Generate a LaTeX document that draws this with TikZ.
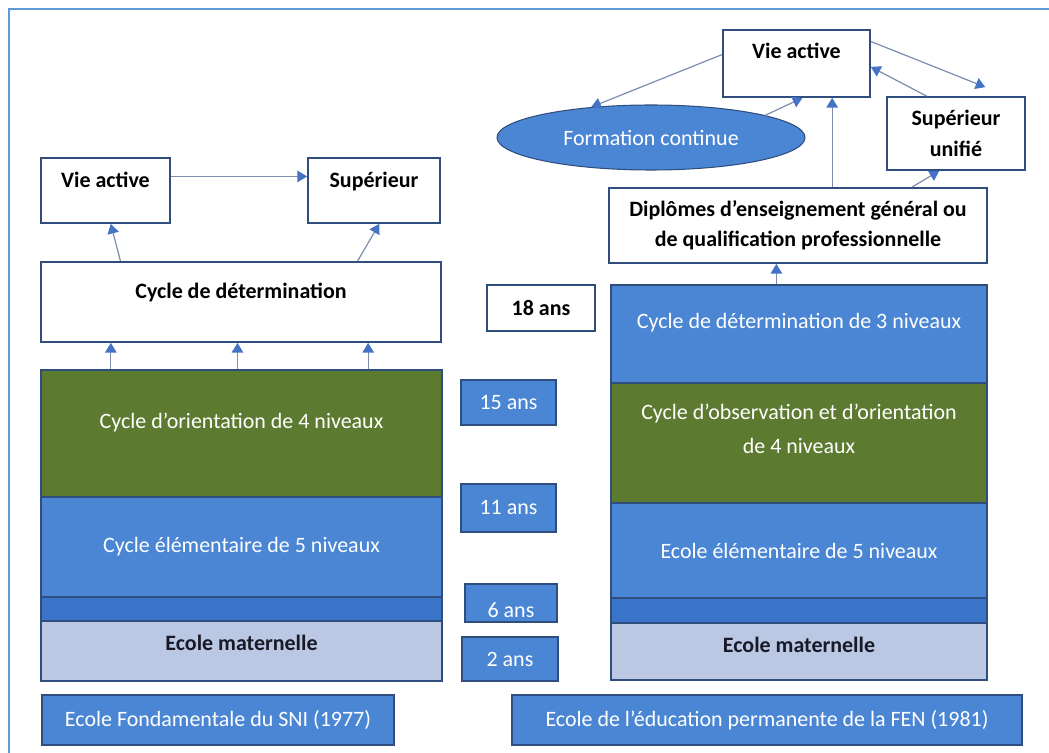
\documentclass[tikz,border=0pt]{standalone}
\usepackage{fontspec}
\setmainfont{Carlito}
\usetikzlibrary{positioning,calc,arrows.meta,shapes.geometric}
\definecolor{boxblue}{RGB}{74,134,212}
\definecolor{stripeblue}{RGB}{58,116,200}
\definecolor{olivegreen}{RGB}{92,122,48}
\definecolor{paleblue}{RGB}{186,200,228}
\definecolor{edgeblue}{RGB}{47,78,125}
\definecolor{linegrey}{RGB}{125,142,175}
\definecolor{tipblue}{RGB}{68,114,196}
\definecolor{framecol}{RGB}{91,155,213}
\definecolor{darktext}{RGB}{25,25,40}
\newcommand{\pu}{0.02cm}
\tikzset{white box/.style={draw=edgeblue,line width=1pt,fill=white,inner sep=0pt,align=center,font=\fontsize{12.5}{15}\selectfont\bfseries},
  blue box/.style={draw=edgeblue,line width=0.8pt,fill=boxblue,inner sep=0pt,align=center,text=white,font=\fontsize{12.5}{15}\selectfont},
  band/.style={draw=edgeblue,line width=0.6pt,fill=#1,inner sep=0pt,align=center,text=white,font=\fontsize{12.5}{15}\selectfont},
  mat band/.style={band=paleblue,text=darktext,font=\fontsize{12.5}{15}\selectfont\bfseries},
  arr/.style={draw=linegrey,line width=0.7pt,-{Triangle[width=6.5pt,length=5.5pt,color=tipblue]}} }

\begin{document}
\begin{tikzpicture}[x=0.02cm,y=-0.02cm]
\useasboundingbox (0,0) rectangle (1049,753);
\draw[framecol,line width=1.3pt] (9,753) -- (9,9) -- (1049,9);

  % left school
  \node[white box,minimum width=129*\pu,minimum height=65*\pu,text depth=12.6pt] (vieL) at (105.5,190.5) {Vie active};
  \node[white box,minimum width=132*\pu,minimum height=65*\pu,text depth=12.6pt] (supL) at (374,190.5) {Supérieur};
  \node[white box,minimum width=400*\pu,minimum height=80*\pu,text depth=13pt] (cdetL) at (241,302) {Cycle de détermination};
  \node[band=olivegreen,minimum width=401*\pu,minimum height=127*\pu,text depth=14.4pt] (orientL) at (241.5,433.5) {Cycle d’orientation de 4 niveaux};
  \node[band=boxblue,minimum width=401*\pu,minimum height=100*\pu] (elemL) at (241.5,547) {Cycle élémentaire de 5 niveaux};
  \node[band=stripeblue,minimum width=401*\pu,minimum height=24*\pu] (stripeL) at (241.5,609) {};
  \node[mat band,minimum width=401*\pu,minimum height=60*\pu,text depth=9.8pt] (matL) at (241.5,651) {Ecole maternelle};
  \node[blue box,minimum width=352*\pu,minimum height=50*\pu] (fondL) at (218,720) {Ecole Fondamentale du SNI (1977)};

  % ages
  \node[white box,minimum width=108*\pu,minimum height=46*\pu] (a18) at (541,308) {18 ans};
  \node[blue box,minimum width=95*\pu,minimum height=45*\pu] (a15) at (508.5,402.5) {15 ans};
  \node[blue box,minimum width=95*\pu,minimum height=48*\pu] (a11) at (508.5,508) {11 ans};
  \node[blue box,minimum width=92*\pu,minimum height=38*\pu,text height=17pt] (a6) at (511,603) {6 ans};
  \node[blue box,minimum width=96*\pu,minimum height=44*\pu] (a2) at (510,659) {2 ans};

  % right school
  \node[white box,minimum width=147*\pu,minimum height=67*\pu,text depth=15pt] (vieR) at (796.5,63.5) {Vie active};
  \node[ellipse,draw=edgeblue,line width=0.6pt,fill=boxblue,inner sep=0pt,minimum width=308*\pu,minimum height=65*\pu,text=white,font=\fontsize{12.5}{15}\selectfont] (formC) at (651,137.5) {Formation continue};
  \node[white box,minimum width=138*\pu,minimum height=73*\pu] (supU) at (956,133.5) {Supérieur\\[3pt]unifié};
  \node[white box,minimum width=378*\pu,minimum height=75*\pu] (dipl) at (798,225.5) {Diplômes d’enseignement général ou\\[2pt]de qualification professionnelle};
  \node[band=boxblue,minimum width=376*\pu,minimum height=98*\pu,text depth=15.4pt] (cdetR) at (799,334) {Cycle de détermination de 3 niveaux};
  \node[band=olivegreen,minimum width=376*\pu,minimum height=120*\pu,text depth=16pt] (obsR) at (799,443) {Cycle d’observation et d’orientation\\[4pt]de 4 niveaux};
  \node[band=boxblue,minimum width=376*\pu,minimum height=95*\pu] (elemR) at (799,550.5) {Ecole élémentaire de 5 niveaux};
  \node[band=stripeblue,minimum width=376*\pu,minimum height=25*\pu] (stripeR) at (799,610.5) {};
  \node[mat band,minimum width=376*\pu,minimum height=57*\pu,text depth=8pt] (matR) at (799,651.5) {Ecole maternelle};
  \node[blue box,minimum width=510*\pu,minimum height=50*\pu] (fenR) at (767,720) {Ecole de l’éducation permanente de la FEN (1981)};

  % arrows left
  \draw[arr] ($(vieL.north east)!0.29!(vieL.south east)$) -- ($(supL.north west)!0.29!(supL.south west)$);
  \draw[arr] ($(cdetL.north west)!0.2!(cdetL.north east)$) -- ($(vieL.south west)!0.54!(vieL.south east)$);
  \draw[arr] ($(cdetL.north west)!0.79!(cdetL.north east)$) -- ($(supL.south west)!0.54!(supL.south east)$);
  \foreach \f in {0.175,0.49,0.815}
    \draw[arr] ($(orientL.north west)!\f!(orientL.north east)$) coordinate (s) -- (s |- cdetL.south);

  % arrows right
  \draw[arr] ($(vieR.north west)!0.37!(vieR.south west)$) -- (formC.153);
  \draw[arr] (formC.11) -- ($(vieR.south west)!0.54!(vieR.south east)$);
  \draw[arr] ($(dipl.north west)!0.59!(dipl.north east)$) coordinate (d1) -- (d1 |- vieR.south);
  \draw[arr] ($(vieR.north east)!0.18!(vieR.south east)$) -- ($(supU.north west)!0.71!(supU.north east)+(0,-9)$);
  \draw[arr] ($(supU.north west)!0.29!(supU.north east)$) -- ($(vieR.north east)!0.55!(vieR.south east)$);
  \draw[arr] ($(dipl.north west)!0.8!(dipl.north east)$) -- ($(supU.south west)!0.38!(supU.south east)$);
  \draw[arr] ($(cdetR.north west)!0.44!(cdetR.north east)$) coordinate (c1) -- (c1 |- dipl.south);
\end{tikzpicture}
\end{document}
